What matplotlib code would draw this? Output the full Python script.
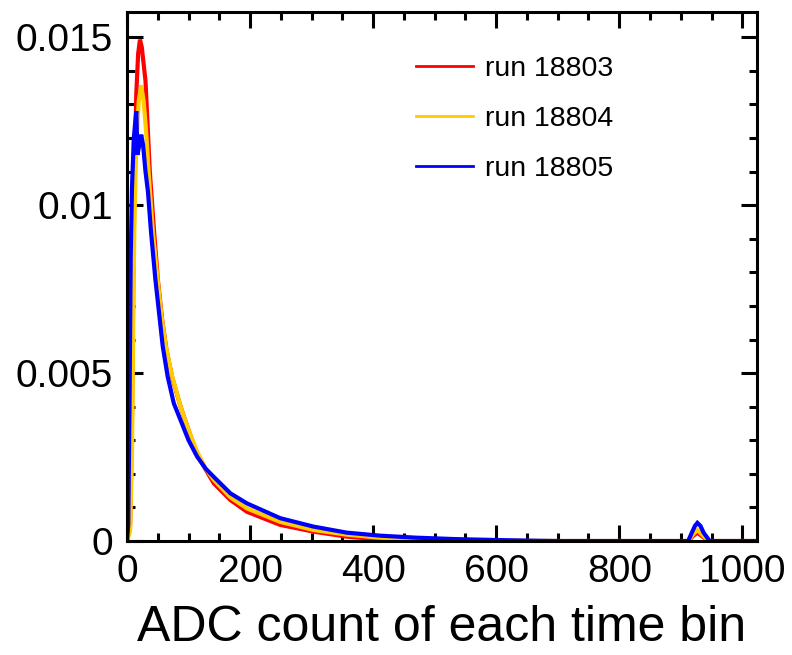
#!/usr/bin/env python3
"""ADC count distribution per time bin for three runs (normalised)."""

from __future__ import annotations

import matplotlib

matplotlib.use("Agg")
import matplotlib.pyplot as plt
from matplotlib.ticker import FuncFormatter, MultipleLocator

RUNS = ["run 18803", "run 18804", "run 18805"]
COLORS = ["#FF0000", "#FFCC00", "#0000FF"]

# values
adc_18803 = [0, 5, 8, 10, 12, 15, 18, 21, 24, 30, 37, 44, 50, 57, 64, 73, 87, 100,
             114, 128, 141, 168, 195, 249, 303, 357, 411, 470, 530, 600, 700, 912,
             920, 927, 934, 945, 1024]
frac_18803 = [0, 0.0005, 0.0035, 0.0075, 0.0105, 0.0133, 0.0145, 0.01493, 0.0147,
              0.0137, 0.0110, 0.0092, 0.0078, 0.0066, 0.0057, 0.0049, 0.0040, 0.0033,
              0.0026, 0.00212, 0.00172, 0.00122, 0.00087, 0.00048, 0.00028, 0.00013,
              0.00005, 0.00002, 0.00001, 0, 0, 0, 0.00015, 0.00025, 0.00015, 0, 0]

adc_18804 = [0, 5, 8, 10, 12, 15, 19, 23, 27, 31, 35, 42, 49, 56, 63, 72, 87, 100,
             114, 128, 141, 168, 195, 249, 303, 357, 411, 470, 530, 600, 700, 912,
             920, 927, 934, 945, 1024]
frac_18804 = [0, 0.0003, 0.0025, 0.0065, 0.0095, 0.0118, 0.0131, 0.01357, 0.0131,
              0.0122, 0.0110, 0.0092, 0.0079, 0.0067, 0.0058, 0.0050, 0.0040, 0.0033,
              0.00265, 0.00215, 0.00182, 0.00130, 0.00097, 0.00057, 0.00033, 0.00019,
              0.0001, 0.00005, 0.00002, 0.00001, 0, 0, 0.0002, 0.00033, 0.0002, 0, 0]

adc_18805 = [0, 2, 4, 6, 8, 11, 15, 17, 20, 23, 26, 30, 34, 39, 46, 52, 58, 66, 76,
             87, 100, 114, 128, 141, 168, 195, 249, 303, 357, 411, 470, 530, 600, 660,
             700, 912, 918, 923, 927, 932, 937, 947, 1024]
frac_18805 = [0, 0.0005, 0.0040, 0.0085, 0.0105, 0.0120, 0.0128, 0.0115, 0.0118,
              0.0121, 0.0118, 0.0110, 0.0104, 0.0092, 0.0078, 0.0068, 0.0058, 0.0049,
              0.0041, 0.0036, 0.0030, 0.00251, 0.00215, 0.00191, 0.00142, 0.00112,
              0.00068, 0.00043, 0.00025, 0.00016, 0.0001, 0.00006, 0.00003, 0.00001,
              0, 0, 0.00025, 0.00045, 0.00054, 0.00045, 0.00025, 0, 0]

X_TICKS = [0, 200, 400, 600, 800, 1000]
Y_TICKS = [0, 0.005, 0.01, 0.015]


def main() -> int:
    plt.rcParams["font.family"] = ["Liberation Sans", "DejaVu Sans"]

    fig = plt.figure(figsize=(7.92, 6.55), dpi=100)
    ax = fig.add_axes([0.1604, 0.1740, 0.7955, 0.8076])

    series = [(adc_18803, frac_18803), (adc_18804, frac_18804), (adc_18805, frac_18805)]
    for (x, y), label, color in zip(series, RUNS, COLORS):
        ax.plot(x, y, color=color, lw=3.0, label=label, solid_joinstyle="miter")

    ax.set_xlim(0, 1024)
    ax.set_ylim(0, 0.01575)
    ax.set_xticks(X_TICKS)
    ax.set_yticks(Y_TICKS)
    ax.xaxis.set_minor_locator(MultipleLocator(50))
    ax.yaxis.set_minor_locator(MultipleLocator(0.001))
    ax.yaxis.set_major_formatter(FuncFormatter(lambda v, _: f"{v:g}"))

    ax.tick_params(which="both", direction="in", top=True, right=True, width=2.2,
                   labelsize=28, colors="black")
    ax.tick_params(which="major", length=11.5)
    ax.tick_params(which="minor", length=5.8)
    ax.tick_params(axis="x", pad=9)
    ax.tick_params(axis="y", pad=10)
    for spine in ax.spines.values():
        spine.set_linewidth(2.2)

    ax.set_xlabel("ADC count of each time bin", fontsize=36, labelpad=11)

    leg = ax.legend(loc="upper left", bbox_to_anchor=(0.4587, 0.917), frameon=False,
                    fontsize=20.5, handlelength=2.0, handletextpad=0.42,
                    labelspacing=0.85, borderpad=0, borderaxespad=0)
    for line in leg.get_lines():
        line.set_linewidth(2.0)

    fig.savefig("out.png", dpi=100)
    plt.close(fig)
    return 0


if __name__ == "__main__":
    raise SystemExit(main())
